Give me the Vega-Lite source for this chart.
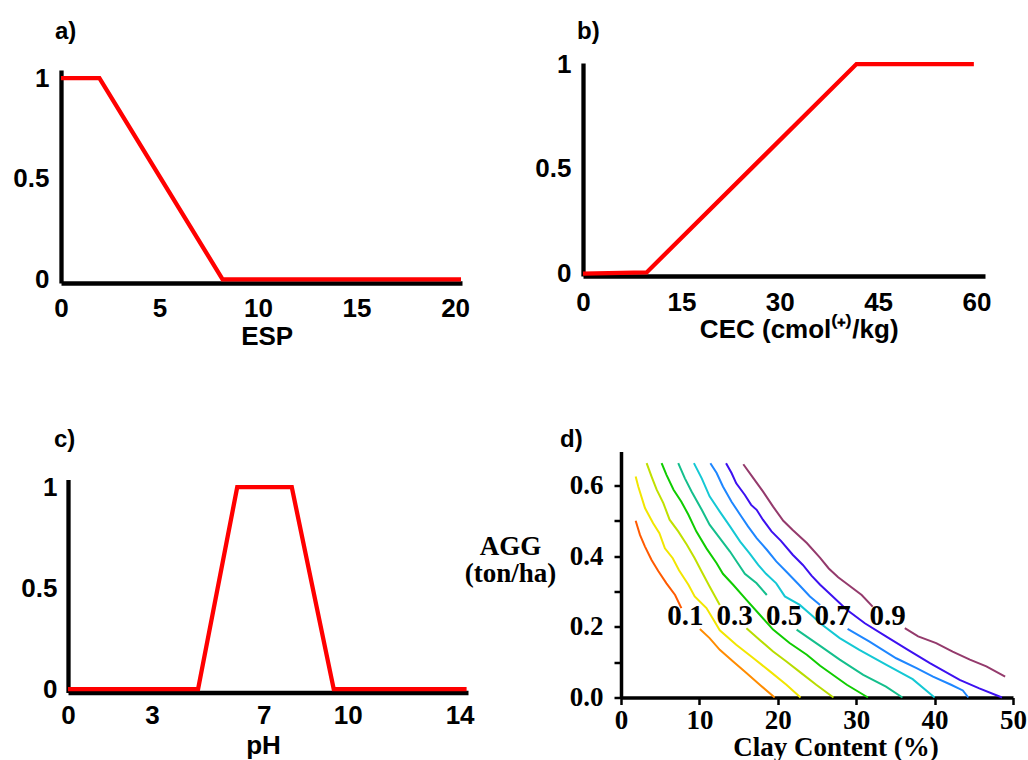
{
  "$schema": "https://vega.github.io/schema/vega-lite/v6.json",
  "padding": {"left": 12, "top": 19, "right": 0, "bottom": 0},
  "background": "white",
  "config": {
    "view": {"stroke": null},
    "axis": {"grid": false, "labelFlush": false, "labelOverlap": false, "labelBound": false, "labelColor": "black", "titleColor": "black", "domainColor": "black", "tickColor": "black"}
  },
  "spacing": 78.5,
  "vconcat": [
    {
      "hconcat": [
        {
          "width": 401,
          "height": 220,
          "title": {"text": "a)", "anchor": "start", "frame": "group", "dx": -6, "offset": 0.5, "baseline": "alphabetic", "font": "Liberation Sans", "fontSize": 24, "fontWeight": "bold", "color": "black"},
          "data": {"values": [{"esp": 0, "m": 1}, {"esp": 1.95, "m": 1}, {"esp": 8.2, "m": 0}, {"esp": 20.3, "m": 0}]},
          "mark": {"type": "line", "color": "#ff0000", "strokeWidth": 4.3, "strokeJoin": "miter"},
          "encoding": {
            "x": {"field": "esp", "type": "quantitative", "scale": {"domain": [0, 20.35], "nice": false, "zero": false},
              "axis": {"values": [0, 5, 10, 15, 20], "title": "ESP", "titleX": 205.7, "titleY": 61, "titleAlign": "center", "titleBaseline": "alphabetic", "titleFont": "Liberation Sans", "titleFontSize": 26, "titleFontWeight": "bold", "labelFont": "Liberation Sans", "labelFontSize": 26, "labelFontWeight": "bold", "labelPadding": 12, "ticks": false, "tickSize": 0, "domainWidth": 4.3}},
            "y": {"field": "m", "type": "quantitative", "scale": {"domain": [-0.018, 1.04], "range": [220, 7], "nice": false, "zero": false},
              "axis": {"values": [0, 0.5, 1], "format": "~g", "title": null, "labelFont": "Liberation Sans", "labelFontSize": 26, "labelFontWeight": "bold", "labelPadding": 12, "ticks": false, "tickSize": 0, "domainWidth": 4.3}}
          }
        },
        {
          "width": 402,
          "height": 213,
          "title": {"text": "b)", "anchor": "start", "frame": "group", "dx": -6, "offset": -12.2, "baseline": "alphabetic", "font": "Liberation Sans", "fontSize": 24, "fontWeight": "bold", "color": "black"},
          "data": {"values": [{"cec": 0, "m": 0}, {"cec": 9.7, "m": 0.006}, {"cec": 41.7, "m": 1}, {"cec": 59.6, "m": 1}]},
          "mark": {"type": "line", "color": "#ff0000", "strokeWidth": 4.3, "strokeJoin": "miter"},
          "encoding": {
            "x": {"field": "cec", "type": "quantitative", "scale": {"domain": [0, 61.3], "nice": false, "zero": false},
              "axis": {"values": [0, 15, 30, 45, 60], "title": "CEC (cmol⁽⁺⁾/kg)", "titleX": 215.7, "titleY": 61, "titleAlign": "center", "titleBaseline": "alphabetic", "titleFont": "Liberation Sans", "titleFontSize": 26, "titleFontWeight": "bold", "labelFont": "Liberation Sans", "labelFontSize": 26, "labelFontWeight": "bold", "labelPadding": 13, "ticks": false, "tickSize": 0, "domainWidth": 4.3}},
            "y": {"field": "m", "type": "quantitative", "scale": {"domain": [-0.011, 1.005], "nice": false, "zero": false},
              "axis": {"values": [0, 0.5, 1], "format": "~g", "title": null, "labelFont": "Liberation Sans", "labelFontSize": 26, "labelFontWeight": "bold", "labelPadding": 12, "ticks": false, "tickSize": 0, "domainWidth": 4.3}}
          }
        }
      ],
      "spacing": 121,
      "bounds": "flush"
    },
    {
      "hconcat": [
        {
          "width": 407,
          "height": 241,
          "title": {"text": "c)", "anchor": "start", "frame": "group", "dx": -7, "offset": -19.2, "baseline": "alphabetic", "font": "Liberation Sans", "fontSize": 24, "fontWeight": "bold", "color": "black"},
          "data": {"values": [{"ph": 0, "m": 0}, {"ph": 4.65, "m": 0}, {"ph": 6.05, "m": 1}, {"ph": 8.0, "m": 1}, {"ph": 9.5, "m": 0}, {"ph": 14.25, "m": 0}]},
          "mark": {"type": "line", "color": "#ff0000", "strokeWidth": 4.3, "strokeJoin": "miter"},
          "encoding": {
            "x": {"field": "ph", "type": "quantitative", "scale": {"domain": [0, 14.3], "range": [7, 407], "nice": false, "zero": false},
              "axis": {"values": [0, 3, 7, 10, 14], "title": "pH", "titleX": 202, "titleY": 60.5, "titleAlign": "center", "titleBaseline": "alphabetic", "titleFont": "Liberation Sans", "titleFontSize": 26, "titleFontWeight": "bold", "labelFont": "Liberation Sans", "labelFontSize": 26, "labelFontWeight": "bold", "labelPadding": 9.5, "ticks": false, "tickSize": 0, "domainWidth": 4.3}},
            "y": {"field": "m", "type": "quantitative", "scale": {"domain": [-0.017, 1.038], "range": [241, 28], "nice": false, "zero": false},
              "axis": {"values": [0, 0.5, 1], "format": "~g", "title": null, "offset": -7, "labelFont": "Liberation Sans", "labelFontSize": 26, "labelFontWeight": "bold", "labelPadding": 11, "ticks": false, "tickSize": 0, "domainWidth": 4.3}}
          }
        },
        {
          "width": 392,
          "height": 246,
          "title": {"text": "d)", "anchor": "start", "frame": "group", "dx": -61, "offset": -19.2, "baseline": "alphabetic", "font": "Liberation Sans", "fontSize": 24, "fontWeight": "bold", "color": "black"},
          "layer": [
            {
              "data": {"values": [
                {"s": "0.1a", "x": 1.87, "y": 0.5}, {"s": "0.1a", "x": 2.42, "y": 0.46}, {"s": "0.1a", "x": 3.06, "y": 0.427}, {"s": "0.1a", "x": 3.9, "y": 0.389}, {"s": "0.1a", "x": 4.75, "y": 0.358}, {"s": "0.1a", "x": 5.8, "y": 0.323}, {"s": "0.1a", "x": 6.9, "y": 0.29}, {"s": "0.1a", "x": 7.7, "y": 0.253},
                {"s": "0.1b", "x": 10.06, "y": 0.194}, {"s": "0.1b", "x": 11.3, "y": 0.168}, {"s": "0.1b", "x": 12.6, "y": 0.135}, {"s": "0.1b", "x": 14.3, "y": 0.102}, {"s": "0.1b", "x": 16.0, "y": 0.069}, {"s": "0.1b", "x": 17.7, "y": 0.036}, {"s": "0.1b", "x": 19.6, "y": 0.0},
                {"s": "0.2", "x": 1.87, "y": 0.625}, {"s": "0.2", "x": 2.2, "y": 0.597}, {"s": "0.2", "x": 3.06, "y": 0.536}, {"s": "0.2", "x": 4.1, "y": 0.493}, {"s": "0.2", "x": 4.9, "y": 0.465}, {"s": "0.2", "x": 5.6, "y": 0.422}, {"s": "0.2", "x": 6.6, "y": 0.394}, {"s": "0.2", "x": 7.4, "y": 0.36}, {"s": "0.2", "x": 8.6, "y": 0.319}, {"s": "0.2", "x": 9.4, "y": 0.286}, {"s": "0.2", "x": 10.9, "y": 0.253}, {"s": "0.2", "x": 11.8, "y": 0.22}, {"s": "0.2", "x": 12.6, "y": 0.19}, {"s": "0.2", "x": 14.7, "y": 0.149}, {"s": "0.2", "x": 16.9, "y": 0.111}, {"s": "0.2", "x": 19.0, "y": 0.074}, {"s": "0.2", "x": 21.1, "y": 0.036}, {"s": "0.2", "x": 22.9, "y": 0.0},
                {"s": "0.3a", "x": 3.27, "y": 0.663}, {"s": "0.3a", "x": 3.9, "y": 0.625}, {"s": "0.3a", "x": 4.55, "y": 0.588}, {"s": "0.3a", "x": 5.4, "y": 0.55}, {"s": "0.3a", "x": 6.2, "y": 0.503}, {"s": "0.3a", "x": 7.3, "y": 0.47}, {"s": "0.3a", "x": 8.4, "y": 0.432}, {"s": "0.3a", "x": 9.4, "y": 0.394}, {"s": "0.3a", "x": 10.3, "y": 0.356}, {"s": "0.3a", "x": 11.3, "y": 0.314}, {"s": "0.3a", "x": 12.6, "y": 0.262},
                {"s": "0.3b", "x": 16.0, "y": 0.196}, {"s": "0.3b", "x": 17.7, "y": 0.163}, {"s": "0.3b", "x": 19.4, "y": 0.13}, {"s": "0.3b", "x": 21.1, "y": 0.102}, {"s": "0.3b", "x": 23.0, "y": 0.069}, {"s": "0.3b", "x": 24.9, "y": 0.036}, {"s": "0.3b", "x": 27.1, "y": 0.0},
                {"s": "0.4", "x": 5.18, "y": 0.663}, {"s": "0.4", "x": 5.8, "y": 0.63}, {"s": "0.4", "x": 6.7, "y": 0.588}, {"s": "0.4", "x": 7.7, "y": 0.554}, {"s": "0.4", "x": 8.6, "y": 0.517}, {"s": "0.4", "x": 9.6, "y": 0.47}, {"s": "0.4", "x": 10.9, "y": 0.422}, {"s": "0.4", "x": 12.2, "y": 0.38}, {"s": "0.4", "x": 13.0, "y": 0.35}, {"s": "0.4", "x": 14.3, "y": 0.319}, {"s": "0.4", "x": 16.0, "y": 0.276}, {"s": "0.4", "x": 17.7, "y": 0.234}, {"s": "0.4", "x": 19.4, "y": 0.192}, {"s": "0.4", "x": 21.5, "y": 0.154}, {"s": "0.4", "x": 23.7, "y": 0.121}, {"s": "0.4", "x": 25.4, "y": 0.09}, {"s": "0.4", "x": 28.8, "y": 0.036}, {"s": "0.4", "x": 31.5, "y": 0.0},
                {"s": "0.5a", "x": 7.3, "y": 0.663}, {"s": "0.5a", "x": 8.15, "y": 0.62}, {"s": "0.5a", "x": 9.0, "y": 0.583}, {"s": "0.5a", "x": 10.3, "y": 0.531}, {"s": "0.5a", "x": 11.3, "y": 0.489}, {"s": "0.5a", "x": 12.6, "y": 0.451}, {"s": "0.5a", "x": 13.9, "y": 0.413}, {"s": "0.5a", "x": 14.9, "y": 0.38}, {"s": "0.5a", "x": 15.8, "y": 0.35}, {"s": "0.5a", "x": 17.3, "y": 0.323}, {"s": "0.5a", "x": 18.6, "y": 0.29},
                {"s": "0.5b", "x": 22.4, "y": 0.192}, {"s": "0.5b", "x": 25.4, "y": 0.146}, {"s": "0.5b", "x": 27.9, "y": 0.107}, {"s": "0.5b", "x": 30.9, "y": 0.064}, {"s": "0.5b", "x": 33.8, "y": 0.031}, {"s": "0.5b", "x": 35.9, "y": 0.0},
                {"s": "0.6", "x": 9.3, "y": 0.663}, {"s": "0.6", "x": 10.3, "y": 0.62}, {"s": "0.6", "x": 11.3, "y": 0.569}, {"s": "0.6", "x": 12.6, "y": 0.526}, {"s": "0.6", "x": 13.9, "y": 0.484}, {"s": "0.6", "x": 15.2, "y": 0.441}, {"s": "0.6", "x": 16.4, "y": 0.408}, {"s": "0.6", "x": 17.5, "y": 0.375}, {"s": "0.6", "x": 18.5, "y": 0.35}, {"s": "0.6", "x": 19.8, "y": 0.323}, {"s": "0.6", "x": 20.9, "y": 0.286}, {"s": "0.6", "x": 22.8, "y": 0.262}, {"s": "0.6", "x": 24.5, "y": 0.229}, {"s": "0.6", "x": 25.4, "y": 0.21}, {"s": "0.6", "x": 27.9, "y": 0.168}, {"s": "0.6", "x": 30.4, "y": 0.135}, {"s": "0.6", "x": 33.8, "y": 0.093}, {"s": "0.6", "x": 37.2, "y": 0.052}, {"s": "0.6", "x": 40.0, "y": 0.0},
                {"s": "0.7a", "x": 11.4, "y": 0.663}, {"s": "0.7a", "x": 12.2, "y": 0.635}, {"s": "0.7a", "x": 13.0, "y": 0.597}, {"s": "0.7a", "x": 14.1, "y": 0.554}, {"s": "0.7a", "x": 15.2, "y": 0.517}, {"s": "0.7a", "x": 16.2, "y": 0.484}, {"s": "0.7a", "x": 17.3, "y": 0.451}, {"s": "0.7a", "x": 18.6, "y": 0.418}, {"s": "0.7a", "x": 19.8, "y": 0.385}, {"s": "0.7a", "x": 21.1, "y": 0.356}, {"s": "0.7a", "x": 22.7, "y": 0.319}, {"s": "0.7a", "x": 24.1, "y": 0.286}, {"s": "0.7a", "x": 25.4, "y": 0.262},
                {"s": "0.7b", "x": 28.9, "y": 0.194}, {"s": "0.7b", "x": 31.7, "y": 0.158}, {"s": "0.7b", "x": 35.1, "y": 0.111}, {"s": "0.7b", "x": 37.7, "y": 0.083}, {"s": "0.7b", "x": 39.8, "y": 0.059}, {"s": "0.7b", "x": 42.1, "y": 0.036}, {"s": "0.7b", "x": 43.6, "y": 0.02}, {"s": "0.7b", "x": 44.3, "y": 0.0},
                {"s": "0.8", "x": 13.4, "y": 0.663}, {"s": "0.8", "x": 14.1, "y": 0.635}, {"s": "0.8", "x": 14.7, "y": 0.606}, {"s": "0.8", "x": 15.8, "y": 0.573}, {"s": "0.8", "x": 16.6, "y": 0.545}, {"s": "0.8", "x": 17.3, "y": 0.531}, {"s": "0.8", "x": 18.1, "y": 0.503}, {"s": "0.8", "x": 19.2, "y": 0.47}, {"s": "0.8", "x": 20.4, "y": 0.443}, {"s": "0.8", "x": 21.9, "y": 0.404}, {"s": "0.8", "x": 23.2, "y": 0.375}, {"s": "0.8", "x": 24.3, "y": 0.345}, {"s": "0.8", "x": 25.4, "y": 0.319}, {"s": "0.8", "x": 26.8, "y": 0.29}, {"s": "0.8", "x": 28.8, "y": 0.248}, {"s": "0.8", "x": 31.1, "y": 0.21}, {"s": "0.8", "x": 33.8, "y": 0.173}, {"s": "0.8", "x": 36.6, "y": 0.135}, {"s": "0.8", "x": 39.4, "y": 0.097}, {"s": "0.8", "x": 43.2, "y": 0.05}, {"s": "0.8", "x": 45.7, "y": 0.026}, {"s": "0.8", "x": 48.6, "y": 0.0},
                {"s": "0.9a", "x": 15.6, "y": 0.66}, {"s": "0.9a", "x": 16.9, "y": 0.62}, {"s": "0.9a", "x": 18.1, "y": 0.583}, {"s": "0.9a", "x": 19.4, "y": 0.54}, {"s": "0.9a", "x": 20.7, "y": 0.5}, {"s": "0.9a", "x": 21.9, "y": 0.474}, {"s": "0.9a", "x": 23.7, "y": 0.437}, {"s": "0.9a", "x": 25.4, "y": 0.395}, {"s": "0.9a", "x": 26.5, "y": 0.365}, {"s": "0.9a", "x": 27.7, "y": 0.34}, {"s": "0.9a", "x": 28.8, "y": 0.322}, {"s": "0.9a", "x": 30.7, "y": 0.29}, {"s": "0.9a", "x": 32.1, "y": 0.257},
                {"s": "0.9b", "x": 36.2, "y": 0.196}, {"s": "0.9b", "x": 37.9, "y": 0.173}, {"s": "0.9b", "x": 40.2, "y": 0.154}, {"s": "0.9b", "x": 42.3, "y": 0.13}, {"s": "0.9b", "x": 44.5, "y": 0.107}, {"s": "0.9b", "x": 46.6, "y": 0.088}, {"s": "0.9b", "x": 49.0, "y": 0.059}
              ]},
              "mark": {"type": "line", "strokeWidth": 2},
              "encoding": {
                "x": {"field": "x", "type": "quantitative", "scale": {"domain": [0, 50], "nice": false, "zero": false},
                  "axis": {"values": [0, 5, 10, 15, 20, 25, 30, 35, 40, 45, 50], "labelExpr": "datum.value % 10 == 0 ? datum.label : ''", "title": "Clay Content (%)", "titleX": 214.5, "titleY": 57.5, "titleAlign": "center", "titleBaseline": "alphabetic", "titleFont": "Liberation Serif", "titleFontSize": 27, "titleFontWeight": "bold", "labelFont": "Liberation Serif", "labelFontSize": 27, "labelFontWeight": "bold", "labelPadding": 2.5, "tickSize": 7, "tickWidth": 2.5, "domainWidth": 3.5}},
                "y": {"field": "y", "type": "quantitative", "scale": {"domain": [0, 0.696], "nice": false, "zero": false},
                  "axis": {"values": [0, 0.1, 0.2, 0.3, 0.4, 0.5, 0.6], "format": ".1f", "labelExpr": "round(datum.value * 10) % 2 == 0 ? datum.label : ''", "title": ["AGG", "(ton/ha)"], "titleAngle": 0, "titleX": -111, "titleY": 103, "titleAlign": "center", "titleBaseline": "alphabetic", "titleLineHeight": 27, "titleFont": "Liberation Serif", "titleFontSize": 27, "titleFontWeight": "bold", "labelFont": "Liberation Serif", "labelFontSize": 27, "labelFontWeight": "bold", "labelPadding": 11, "tickSize": 7, "tickWidth": 2.5, "domainWidth": 3.5}},
                "color": {"field": "s", "type": "nominal", "legend": null,
                  "scale": {"domain": ["0.1a", "0.1b", "0.2", "0.3a", "0.3b", "0.4", "0.5a", "0.5b", "0.6", "0.7a", "0.7b", "0.8", "0.9a", "0.9b"],
                    "range": ["#ff5a00", "#ff8c00", "#f2e600", "#c0e000", "#b8dc00", "#10cc00", "#14bf8c", "#14bf8c", "#14c8d4", "#1e86ff", "#1e86ff", "#3c10f0", "#943a6c", "#943a6c"]}}
              }
            },
            {
              "data": {"values": [
                {"t": "0.1", "x": 8.2, "y": 0.232}, {"t": "0.3", "x": 14.5, "y": 0.232}, {"t": "0.5", "x": 20.8, "y": 0.232}, {"t": "0.7", "x": 27.0, "y": 0.232}, {"t": "0.9", "x": 34.0, "y": 0.232}
              ]},
              "mark": {"type": "text", "font": "Liberation Serif", "fontSize": 29, "fontWeight": "bold", "color": "black", "align": "center", "baseline": "middle"},
              "encoding": {
                "x": {"field": "x", "type": "quantitative"},
                "y": {"field": "y", "type": "quantitative"},
                "text": {"field": "t", "type": "nominal"}
              }
            }
          ]
        }
      ],
      "spacing": 153,
      "bounds": "flush"
    }
  ]
}
